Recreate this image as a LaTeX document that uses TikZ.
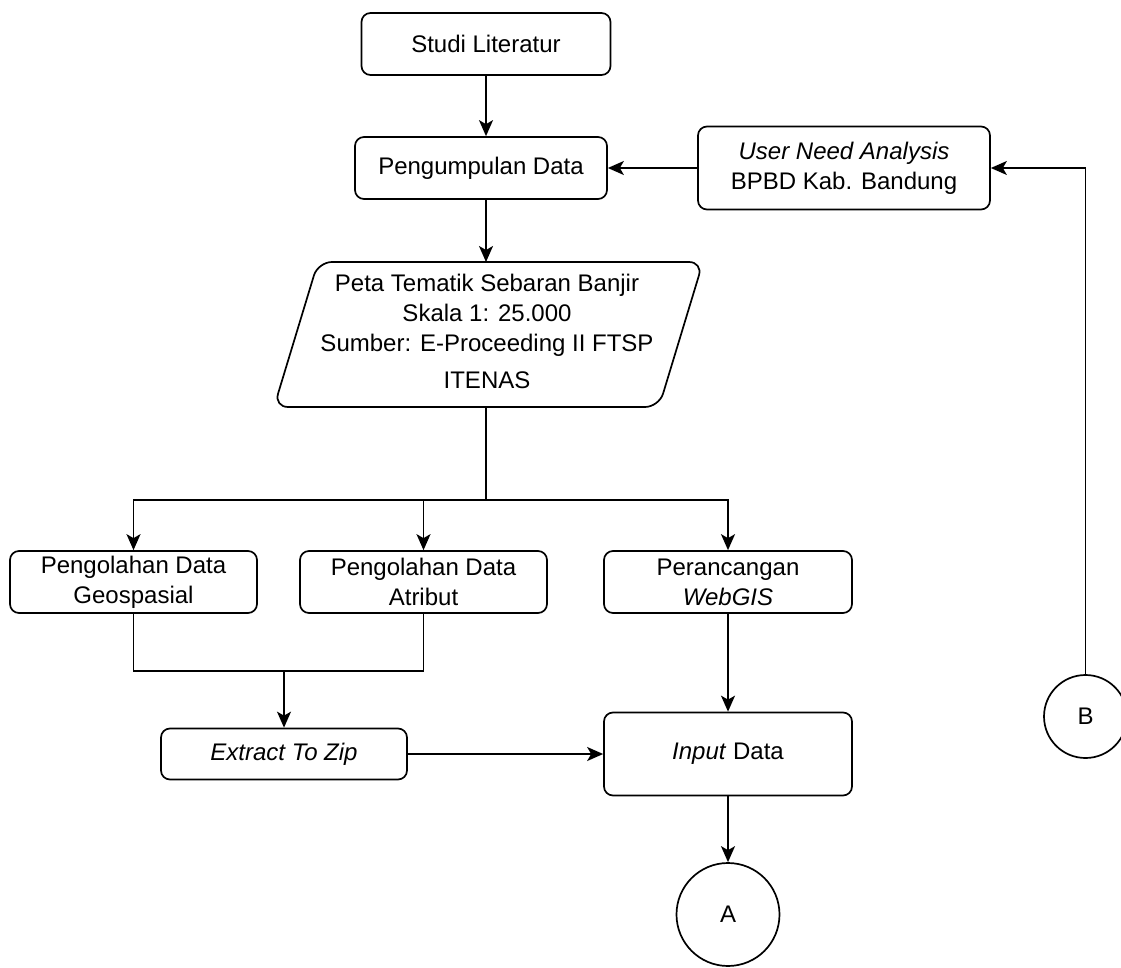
\documentclass[tikz,border=0pt]{standalone}
\usepackage{fontspec}
\setmainfont{Liberation Sans}
\usetikzlibrary{arrows.meta,shapes.geometric}
\begin{document}
\begin{tikzpicture}[x=1pt,y=-1pt,
  every node/.style={font=\fontsize{24}{30}\selectfont},
  box/.style={draw, line width=1.7pt, rounded corners=9pt, align=center, inner sep=0pt},
  circ/.style={draw, line width=1.7pt, circle, inner sep=0pt},
  con/.style={line width=1.7pt},
  arr/.style={line width=1.7pt, -{Stealth[length=16pt,width=14pt,inset=4pt]}}]
\useasboundingbox (0,0) rectangle (1121,968);
\node[box, minimum width=249pt, minimum height=62pt] (stud) at (486,44) {Studi Literatur};
\node[box, minimum width=252pt, minimum height=62pt] (peng) at (481,168) {Pengumpulan Data};
\node[box, minimum width=292pt, minimum height=83pt] (una) at (844,168) {\textit{User Need Analysis}\\BPBD Kab. Bandung};
\node[align=center, inner sep=0pt] (peta) at (487,331) {Peta Tematik Sebaran Banjir\\Skala 1: 25.000\\Sumber: E-Proceeding II FTSP\\[7pt]ITENAS};
\coordinate (pTL) at (318,262);
\coordinate (pTR) at (703,262);
\coordinate (pBR) at (659,407);
\coordinate (pBL) at (274,407);
\draw[line width=1.7pt, rounded corners=14pt] (pTL) -- (pTR) -- (pBR) -- (pBL) -- cycle;
\coordinate (ptop) at (486,262);
\coordinate (pbot) at (486,407);
\coordinate (split) at (486,500);
\node[box, minimum width=247pt, minimum height=62pt] (geo) at (133.5,582) {Pengolahan Data\\Geospasial};
\node[box, minimum width=247pt, minimum height=62pt] (atr) at (423.5,582) {Pengolahan Data\\Atribut};
\node[box, minimum width=248pt, minimum height=62pt] (per) at (728,582) {Perancangan\\\textit{WebGIS}};
\node[box, minimum width=246pt, minimum height=51pt] (ext) at (284,754) {\textit{Extract To Zip}};
\node[box, minimum width=248pt, minimum height=83pt] (inp) at (728,754) {\textit{Input} Data};
\node[circ, minimum size=103pt] (A) at (728,914.5) {A};
\node[circ, minimum size=83pt] (B) at (1085.5,716.5) {B};
\coordinate (join) at (284,671);
% connectors
\draw[arr] (stud.south -| ptop) -- (peng.north -| ptop);
\draw[arr] (una.west) -- (peng.east);
\draw[arr, line width=1.3pt] (B.north) |- (una.east);
\draw[arr] (peng.south -| ptop) -- (ptop);
\draw[con] (pbot) -- (split);
\draw[arr] (split) -| (geo.north);
\draw[arr] (split) -| (atr.north);
\draw[arr] (split) -| (per.north);
\draw[con] (geo.south) |- (join) -| (atr.south);
\draw[arr] (join) -- (ext.north);
\draw[arr] (ext.east) -- (inp.west);
\draw[arr] (per.south) -- (inp.north);
\draw[arr] (inp.south) -- (A.north);
\end{tikzpicture}
\end{document}
